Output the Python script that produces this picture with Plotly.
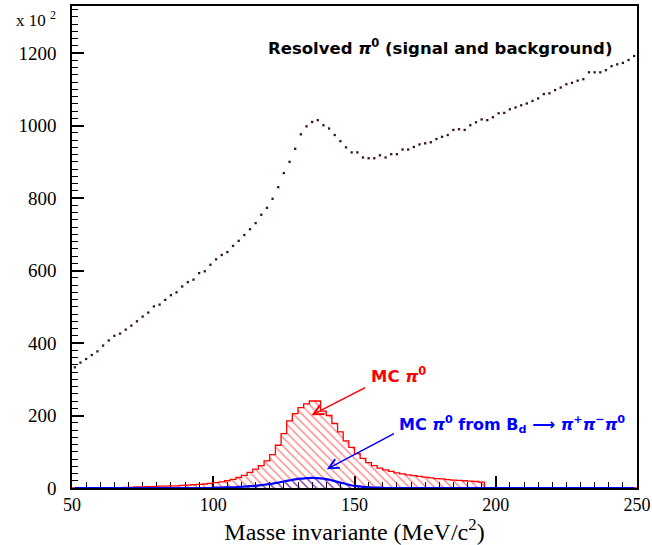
import plotly.graph_objects as go

# ---------------- data ----------------
bin_width = 2.0
mass_centers = [51 + 2 * i for i in range(100)]  # MeV, bins of 2 MeV from 50 to 250

resolved_counts = [
    333, 346, 356, 367, 377, 393, 407, 420, 426, 437, 448, 460, 473, 484,
    501, 506, 519, 532, 540, 556, 568, 575, 593, 598, 616, 631, 643, 651,
    668, 682, 698, 714, 731, 754, 773,
    798, 830, 869, 900, 936, 976, 998, 1010, 1015, 1001, 992, 974, 957, 940,
    926, 926, 912, 910, 910, 918, 912, 921, 921, 934, 934, 941, 948, 951, 954,
    963, 969, 974, 988, 990, 988, 1001, 1009, 1017, 1015, 1023, 1034, 1035,
    1045, 1050, 1056, 1061, 1068, 1075, 1087, 1089, 1098, 1105, 1114, 1118,
    1124, 1128, 1147, 1147, 1147, 1153, 1164, 1169, 1173, 1181, 1192,
]

mc_pi0_counts = [
    0, 0, 0, 0, 0, 0, 0, 0,                      # 51-65
    1, 2, 2, 3, 3, 4, 4, 5, 5, 6, 6, 7, 8, 9,   # 67-93
    10, 11, 13, 15, 17, 20,                      # 95-105
    24, 29, 35, 43, 52, 62, 75, 92, 118, 150,   # 107-125
    185, 205, 222, 232, 240, 240,               # 127-137
    212, 200, 178, 155, 130, 112, 95, 82, 70, 62,  # 139-157
    55, 50, 46, 42, 39, 36, 34, 32, 30, 28,     # 159-177
    26, 25, 23, 22, 21, 20, 19, 18, 16,         # 179-195
] + [0] * 27                                    # 197-249

mc_pi0_bd_counts = [0] * 25 + [                 # 51-99
    1, 1, 2, 2, 3, 4, 5, 6, 8, 10,              # 101-119
    12, 15, 18, 21, 24, 26, 27, 28, 27, 26,     # 121-139
    23, 19, 15, 11, 7, 5, 3, 2, 1, 1,           # 141-159
] + [0] * 45                                    # 161-249

x_ticks = [50, 100, 150, 200, 250]
y_ticks = [0, 200, 400, 600, 800, 1000, 1200]

# ---------------- figure ----------------
fig = go.Figure()

edges_lo = [c - bin_width / 2 for c in mass_centers]
edges_hi = [c + bin_width / 2 for c in mass_centers]

fig.add_trace(go.Scatter(
    x=edges_lo + [edges_hi[-1]],
    y=mc_pi0_counts + [mc_pi0_counts[-1]],
    mode="lines", line=dict(color="#ff0000", width=1.3, shape="hv"),
    fill="tozeroy",
    fillpattern=dict(shape="\\", fgcolor="#ff0000", bgcolor="rgba(0,0,0,0)",
                     size=6, solidity=0.22),
    hoverinfo="skip", showlegend=False,
))

fig.add_trace(go.Scatter(
    x=mass_centers, y=mc_pi0_bd_counts,
    mode="lines", line=dict(color="#0000ff", width=2.2, shape="spline"),
    fill="tozeroy",
    fillpattern=dict(shape="\\", fgcolor="#0000ff", bgcolor="rgba(0,0,0,0)",
                     size=6, solidity=0.22),
    hoverinfo="skip", showlegend=False,
))

fig.add_trace(go.Scatter(
    x=mass_centers, y=resolved_counts,
    mode="markers", marker=dict(color="#3a1414", size=2.3, symbol="square"),
    hoverinfo="skip", showlegend=False,
))

txt_font = dict(family="DejaVu Sans", size=16.5, color="black", weight="bold")

fig.add_annotation(
    x=118.5, y=1217, xref="x", yref="y", xanchor="left", yanchor="middle",
    text="Resolved <i>π</i><sup>0</sup> (signal and background)",
    showarrow=False, font=txt_font,
)
fig.add_annotation(
    x=155, y=312, xref="x", yref="y", xanchor="left", yanchor="middle",
    text="MC <i>π</i><sup>0</sup>", showarrow=False,
    font=dict(txt_font, color="#ff0000"),
)
fig.add_annotation(
    x=165, y=174, xref="x", yref="y", xanchor="left", yanchor="middle",
    text="MC <i>π</i><sup>0</sup> from B<sub>d</sub> ⟶ <i>π</i><sup>+</sup><i>π</i><sup>−</sup><i>π</i><sup>0</sup>",
    showarrow=False, font=dict(txt_font, size=16, color="#0000ff"),
)
# arrows
fig.add_annotation(
    x=134.8, y=201, ax=154.3, ay=279, xref="x", yref="y", axref="x", ayref="y",
    text="", showarrow=True, arrowhead=5, arrowsize=1.3, arrowwidth=1.5,
    arrowcolor="#ff0000",
)
fig.add_annotation(
    x=140.2, y=52, ax=164.5, ay=152, xref="x", yref="y", axref="x", ayref="y",
    text="", showarrow=True, arrowhead=5, arrowsize=1.3, arrowwidth=1.5,
    arrowcolor="#0000ff",
)
# exponent label
fig.add_annotation(
    x=0, y=1, xref="paper", yref="paper", xanchor="left", yanchor="top",
    xshift=-58, yshift=0,
    text="x 10 <sup>2</sup>", showarrow=False,
    font=dict(family="Liberation Serif", size=17, color="black"),
)

fig.update_xaxes(
    range=[50, 250], tickvals=x_ticks, ticktext=[str(v) for v in x_ticks],
    showgrid=False, zeroline=False, automargin=False, layer="below traces",
    showline=True, linecolor="black", linewidth=1.5, mirror=True,
    ticks="inside", ticklen=12, tickwidth=1.5, tickcolor="black",
    minor=dict(ticks="inside", dtick=5, tick0=50, ticklen=6, tickwidth=1.3,
               tickcolor="black", showgrid=False),
    tickfont=dict(family="Liberation Serif", size=18, color="black"),
    title=dict(text="Masse invariante (MeV/c<sup>2</sup>)",
               font=dict(family="Liberation Serif", size=24, color="black"),
               standoff=7),
)
fig.update_yaxes(
    range=[0, 1330], tickvals=y_ticks, ticktext=[str(v) for v in y_ticks],
    showgrid=False, zeroline=False, automargin=False,
    showline=True, linecolor="black", linewidth=1.5, mirror=True,
    ticks="inside", ticklen=12, tickwidth=1.5, tickcolor="black",
    minor=dict(ticks="inside", dtick=20, tick0=0, ticklen=6, tickwidth=1.3,
               tickcolor="black", showgrid=False),
    tickfont=dict(family="Liberation Serif", size=19, color="black"),
    ticklabelstandoff=10,
)

fig.update_layout(
    width=652, height=545,
    margin=dict(l=72, r=15, t=6, b=57),
    paper_bgcolor="white", plot_bgcolor="white",
    showlegend=False,
)

fig.write_html(
    "out.html",
    config={"displayModeBar": False},
    post_script="document.body.style.margin='0';document.body.style.overflow='hidden';",
)
